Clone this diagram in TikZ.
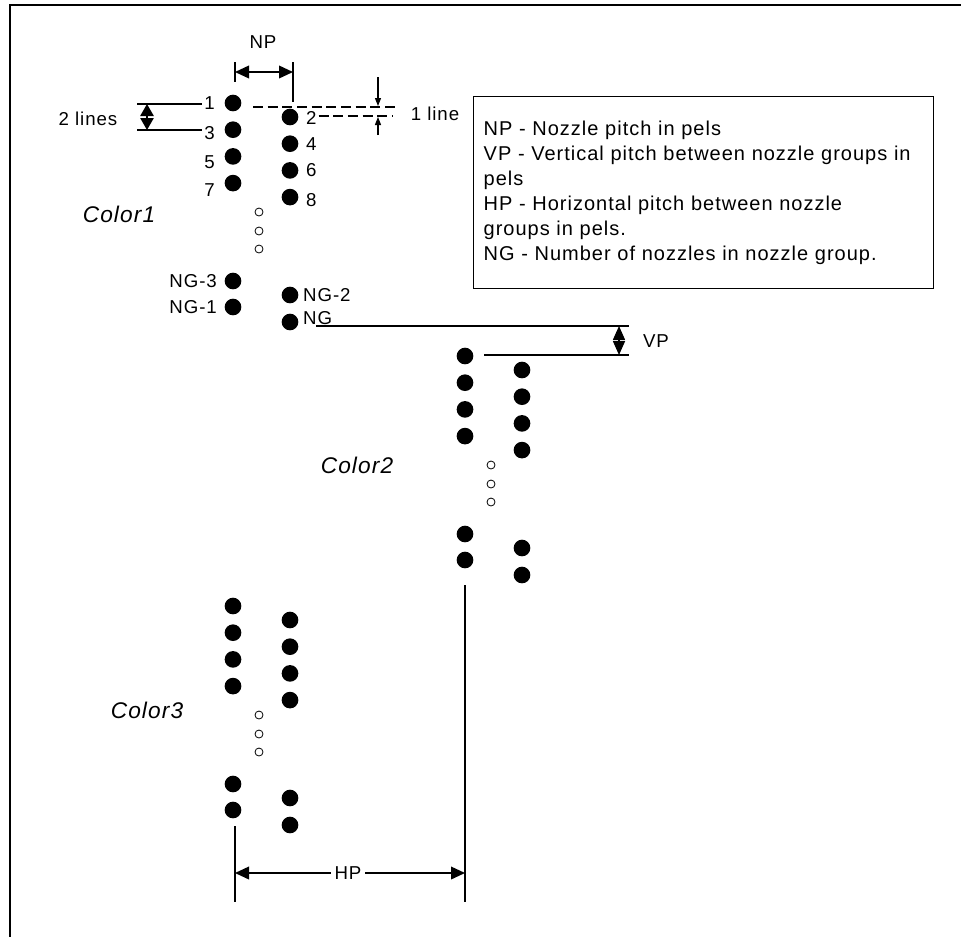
\documentclass[tikz,border=0pt]{standalone}
\usepackage{fontspec}
\setmainfont{Liberation Sans}[LetterSpace=5]
\usetikzlibrary{arrows.meta,calc}

\begin{document}
\begin{tikzpicture}[x=0.75pt,y=-0.75pt,line width=1.2pt,
  font=\fontsize{14}{18.75}\selectfont,
  nozzle/.style={circle,fill,inner sep=0pt,minimum size=12.5pt},
  spare/.style={circle,draw,line width=0.6pt,inner sep=0pt,minimum size=6pt},
  num/.style={inner sep=1pt},
  colorlab/.style={inner sep=1pt,font=\fontsize{17}{20}\selectfont\itshape},
  bigdim/.style={{Triangle[length=10.5pt,width=9.5pt]}-{Triangle[length=10.5pt,width=9.5pt]}},
  tinydim/.style={{Triangle[length=9pt,width=10pt]}-{Triangle[length=9pt,width=10pt]}},
  vpdim/.style={{Triangle[length=10.5pt,width=9pt]}-{Triangle[length=10.5pt,width=9pt]}},
  smalltip/.style={-{Triangle[length=6pt,width=4.5pt]},line width=0.8pt},
  pitch/.style={dashed,line width=1.4pt,dash pattern=on 7.5pt off 3.5pt}]
  \useasboundingbox (0,0) rectangle (961,936);

  % frame
  \draw[line width=2.2pt] (961,5) -- (10,5) -- (10,940);

  % nozzle groups
  \foreach \g/\dx/\dy in {1/0/0,2/232/253,3/0/503} {
    \begin{scope}[shift={(\dx,\dy)}]
      \foreach \i in {1,...,4} {
        \node[nozzle] (c\g-l\i) at (233,{103+26.7*(\i-1)}) {};
        \node[nozzle] (c\g-r\i) at (290,{117+26.7*(\i-1)}) {};
      }
      \foreach \i/\y in {1/212,2/231,3/249}
        \node[spare] (c\g-o\i) at (259,\y) {};
      \node[nozzle] (c\g-l5) at (233,281) {};
      \node[nozzle] (c\g-l6) at (233,307) {};
      \node[nozzle] (c\g-r5) at (290,295) {};
      \node[nozzle] (c\g-r6) at (290,322) {};
    \end{scope}
  }

  % group names
  \node[colorlab] (col1) at (119,214) {Color1};
  \node[colorlab] (col2) at (357,465) {Color2};
  \node[colorlab] (col3) at (147,710) {Color3};

  % nozzle numbers
  \node[num,anchor=east] (n1) at (217,103) {1};
  \node[num,anchor=east] (n3) at (217,133) {3};
  \node[num,anchor=east] (n5) at (217,162) {5};
  \node[num,anchor=east] (n7) at (217,190) {7};
  \node[num,anchor=west] (n2) at (304,118) {2};
  \node[num,anchor=west] (n4) at (304,144) {4};
  \node[num,anchor=west] (n6) at (304,170) {6};
  \node[num,anchor=west] (n8) at (304,200) {8};
  \node[num,anchor=east] (ng3) at (219,281) {NG-3};
  \node[num,anchor=east] (ng1) at (219,307) {NG-1};
  \node[num,anchor=west] (ng2) at (301,295) {NG-2};
  \node[num,anchor=west] (ng) at (301,318) {NG};

  % 2 lines
  \coordinate (tl1) at (137,104);
  \coordinate (tl3) at (137,130);
  \draw (tl1) -- (n1.west |- tl1);
  \draw (tl3) -- (n3.west |- tl3);
  \draw[tinydim] ($(tl1)+(10,0)$) -- ($(tl3)+(10,0)$);
  \node (twolines) at (88,119) {2 lines};

  % NP
  \coordinate (np1) at (235,62);
  \coordinate (np2) at (293,62);
  \draw (np1) -- (235,82);
  \draw (np2) -- (293,102);
  \draw[bigdim] ($(np1)+(0,10)$) -- ($(np2)+(0,10)$);
  \node (np) at (263,42) {NP};

  % 1 line
  \coordinate (d1a) at (253,107);
  \coordinate (d1b) at (397,107);
  \coordinate (d2b) at (393,116);
  \draw[pitch] (d1a) -- (d1b);
  \draw[pitch] (n2.east |- d2b) -- (d2b);
  \draw[smalltip] (378,77) -- (378,106);
  \draw[smalltip] (378,135) -- (378,117);
  \node (oneline) at (435,114) {1 line};

  % VP
  \coordinate (vp1) at (629,326);
  \coordinate (vp2) at (629,355);
  \draw (ng.south east |- vp1) ++(-18,0) -- (vp1);
  \draw (484,355) -- (vp2);
  \draw[vpdim] ($(vp1)+(-10,0)$) -- ($(vp2)+(-10,0)$);
  \node (vp) at (656,341) {VP};

  % HP
  \coordinate (hp1) at (235,902);
  \coordinate (hp2) at (465,902);
  \draw (235,826) -- (hp1);
  \draw (465,585) -- (hp2);
  \draw[bigdim] ($(hp1)+(0,-29)$) -- ($(hp2)+(0,-29)$);
  \node[fill=white,inner sep=3pt] (hp) at (348,873) {HP};

  % legend
  \node[draw,line width=1pt,anchor=north west,text width=330pt,inner xsep=7.5pt,
    minimum height=144pt,align=left,font=\fontsize{15}{18.75}\selectfont] (legend) at (473,96)
    {NP - Nozzle pitch in pels\\
     VP - Vertical pitch between nozzle groups in\\
     pels\\
     HP - Horizontal pitch between nozzle\\
     groups in pels.\\
     NG - Number of nozzles in nozzle group.};
\end{tikzpicture}
\end{document}
